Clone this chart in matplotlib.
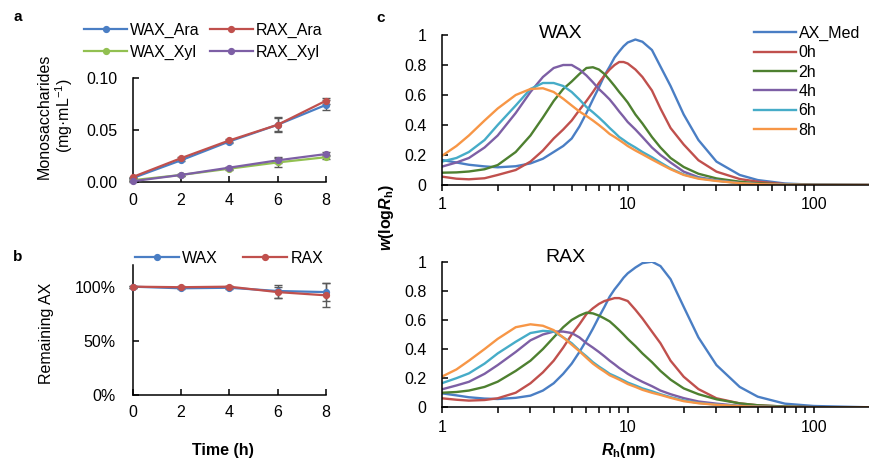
import matplotlib
matplotlib.use("Agg")
import matplotlib.pyplot as plt
from matplotlib.ticker import LogLocator, NullFormatter

plt.rcParams['font.family'] = ['Liberation Sans', 'DejaVu Sans']
plt.rcParams['mathtext.fontset'] = 'custom'
plt.rcParams['mathtext.rm'] = 'Liberation Sans'
plt.rcParams['mathtext.it'] = 'Liberation Sans:italic:bold'
plt.rcParams['mathtext.bf'] = 'Liberation Sans:bold'

# ---------------- data: panel a ----------------
time_h = [0, 2, 4, 6, 8]
wax_ara = [0.004, 0.021, 0.039, 0.055, 0.074]
rax_ara = [0.005, 0.023, 0.040, 0.055, 0.078]
wax_xyl = [0.002, 0.007, 0.013, 0.019, 0.024]
rax_xyl = [0.001, 0.007, 0.014, 0.021, 0.027]
wax_ara_err = [0.0005, 0.001, 0.001, 0.007, 0.005]
rax_ara_err = [0.0005, 0.001, 0.001, 0.006, 0.003]
wax_xyl_err = [0.0003, 0.0005, 0.0015, 0.004, 0.002]
rax_xyl_err = [0.0003, 0.0005, 0.001, 0.003, 0.0015]

# ---------------- data: panel b ----------------
wax_rem = [100, 98.5, 99, 96, 95]
rax_rem = [100, 99.5, 100, 95, 92]
wax_rem_err = [1, 1, 1.5, 6, 8]
rax_rem_err = [1, 1, 1, 5, 11]

# ---------------- data: panel c ----------------
rh = [1, 1.2, 1.4, 1.7, 2, 2.5, 3, 3.5, 4, 4.5, 5, 5.5, 6, 6.5, 7, 7.5, 8, 8.5, 9, 9.5,
      10, 11, 12, 13.5, 15, 17, 20, 24, 30, 40, 50, 70, 100, 200]
series_names = ['AX_Med', '0h', '2h', '4h', '6h', '8h']

wax_axmed = [0.167, 0.150, 0.135, 0.124, 0.118, 0.125, 0.144, 0.175, 0.22, 0.26, 0.31, 0.39, 0.48,
             0.57, 0.65, 0.73, 0.79, 0.85, 0.89, 0.925, 0.95, 0.97, 0.955, 0.90, 0.79, 0.66,
             0.47, 0.30, 0.156, 0.067, 0.033, 0.010, 0.002, 0.0]
wax_0h = [0.056, 0.042, 0.038, 0.045, 0.067, 0.10, 0.156, 0.23, 0.31, 0.37, 0.43, 0.50, 0.56,
          0.62, 0.68, 0.73, 0.77, 0.80, 0.82, 0.82, 0.81, 0.77, 0.72, 0.63, 0.51, 0.38,
          0.27, 0.165, 0.089, 0.04, 0.022, 0.006, 0.001, 0.0]
wax_2h = [0.082, 0.084, 0.09, 0.105, 0.133, 0.22, 0.33, 0.45, 0.56, 0.64, 0.69, 0.74, 0.78,
          0.785, 0.77, 0.74, 0.70, 0.66, 0.62, 0.585, 0.55, 0.47, 0.41, 0.32, 0.25, 0.18,
          0.12, 0.075, 0.044, 0.022, 0.011, 0.004, 0.001, 0.0]
wax_4h = [0.122, 0.15, 0.18, 0.25, 0.33, 0.48, 0.62, 0.72, 0.78, 0.80, 0.80, 0.77, 0.73,
          0.685, 0.64, 0.605, 0.57, 0.53, 0.49, 0.455, 0.42, 0.37, 0.32, 0.25, 0.20, 0.15,
          0.089, 0.052, 0.031, 0.013, 0.006, 0.002, 0.0, 0.0]
wax_6h = [0.156, 0.18, 0.22, 0.30, 0.40, 0.53, 0.64, 0.68, 0.68, 0.66, 0.62, 0.57, 0.52,
          0.485, 0.45, 0.415, 0.38, 0.35, 0.32, 0.30, 0.28, 0.25, 0.22, 0.185, 0.15, 0.11,
          0.07, 0.046, 0.029, 0.012, 0.006, 0.002, 0.0, 0.0]
wax_8h = [0.193, 0.26, 0.33, 0.43, 0.51, 0.60, 0.64, 0.645, 0.62, 0.575, 0.53, 0.49, 0.46,
          0.43, 0.40, 0.37, 0.34, 0.32, 0.30, 0.28, 0.26, 0.23, 0.205, 0.17, 0.14, 0.105,
          0.067, 0.042, 0.027, 0.012, 0.006, 0.002, 0.0, 0.0]

rax_axmed = [0.096, 0.082, 0.069, 0.06, 0.057, 0.065, 0.08, 0.115, 0.165, 0.23, 0.30, 0.38, 0.46,
             0.54, 0.62, 0.69, 0.76, 0.81, 0.85, 0.89, 0.92, 0.96, 0.99, 1.0, 0.97, 0.88,
             0.69, 0.48, 0.29, 0.14, 0.073, 0.025, 0.009, 0.0]
rax_0h = [0.062, 0.052, 0.046, 0.05, 0.062, 0.10, 0.165, 0.24, 0.32, 0.41, 0.50, 0.57, 0.64,
          0.68, 0.71, 0.73, 0.74, 0.75, 0.75, 0.74, 0.73, 0.67, 0.61, 0.52, 0.44, 0.32,
          0.21, 0.125, 0.062, 0.027, 0.014, 0.005, 0.001, 0.0]
rax_2h = [0.10, 0.105, 0.115, 0.14, 0.176, 0.25, 0.32, 0.40, 0.48, 0.55, 0.60, 0.63, 0.65,
          0.645, 0.63, 0.61, 0.59, 0.56, 0.53, 0.50, 0.47, 0.42, 0.37, 0.31, 0.25, 0.19,
          0.13, 0.09, 0.055, 0.027, 0.014, 0.005, 0.001, 0.0]
rax_4h = [0.123, 0.15, 0.175, 0.23, 0.29, 0.38, 0.46, 0.50, 0.52, 0.52, 0.51, 0.48, 0.44,
          0.41, 0.38, 0.35, 0.32, 0.295, 0.27, 0.25, 0.23, 0.20, 0.175, 0.145, 0.115, 0.09,
          0.063, 0.04, 0.025, 0.01, 0.005, 0.001, 0.0, 0.0]
rax_6h = [0.165, 0.20, 0.233, 0.30, 0.37, 0.45, 0.51, 0.525, 0.52, 0.48, 0.44, 0.39, 0.35,
          0.31, 0.28, 0.255, 0.23, 0.215, 0.20, 0.185, 0.17, 0.15, 0.13, 0.11, 0.09, 0.07,
          0.047, 0.03, 0.018, 0.008, 0.004, 0.001, 0.0, 0.0]
rax_8h = [0.21, 0.26, 0.32, 0.40, 0.47, 0.55, 0.57, 0.56, 0.53, 0.48, 0.43, 0.385, 0.34,
          0.30, 0.27, 0.245, 0.22, 0.205, 0.19, 0.175, 0.16, 0.14, 0.12, 0.10, 0.085, 0.065,
          0.042, 0.028, 0.017, 0.008, 0.004, 0.001, 0.0, 0.0]

c_ticks = [1, 10, 100]
c_tick_labels = ['1', '10', '100']
c_yticks = [0, 0.2, 0.4, 0.6, 0.8, 1.0]
c_ytick_labels = ['0', '0.2', '0.4', '0.6', '0.8', '1']

# ---------------- styles ----------------
BLUE = '#4a7ec4'
RED = '#c0504d'
LGREEN = '#92c051'
DGREEN = '#4e8030'
PURPLE = '#7d5fa5'
CYAN = '#46acc8'
ORANGE = '#f79646'
ERR = '#595959'
FS = 11.5

fig = plt.figure(figsize=(8.7, 4.62), dpi=100)
W, H = 870.0, 462.0


def ax_at(l, t, r, b):
    return fig.add_axes([l / W, 1 - b / H, (r - l) / W, (b - t) / H])


def style_lr(ax):
    for s in ['top', 'right']:
        ax.spines[s].set_visible(False)
    for s in ['left', 'bottom']:
        ax.spines[s].set_linewidth(1.1)
        ax.spines[s].set_color('black')


# ---------------- panel a ----------------
axa = ax_at(132.5, 77.7, 326, 182.3)
style_lr(axa)
for y, e, c, lab in [(wax_ara, wax_ara_err, BLUE, 'WAX_Ara'),
                     (wax_xyl, wax_xyl_err, LGREEN, 'WAX_Xyl'),
                     (rax_ara, rax_ara_err, RED, 'RAX_Ara'),
                     (rax_xyl, rax_xyl_err, PURPLE, 'RAX_Xyl')]:
    axa.errorbar(time_h, y, yerr=e, fmt='none', ecolor=ERR, elinewidth=1.0,
                 capsize=3, capthick=1.0, zorder=2, clip_on=False)
    axa.plot(time_h, y, color=c, lw=1.6, marker='o', ms=4.2, label=lab,
             zorder=3, clip_on=False)
axa.set_xlim(0, 8)
axa.set_ylim(0, 0.10)
axa.set_xticks(time_h)
axa.set_yticks([0, 0.05, 0.10])
axa.set_yticklabels(['0.00', '0.05', '0.10'])
axa.tick_params(axis='both', direction='in', length=4, width=1.1, labelsize=FS)
axa.tick_params(axis='y', pad=11)
axa.tick_params(axis='x', pad=8)
fig.legend(*axa.get_legend_handles_labels(), loc='upper left',
           bbox_to_anchor=(84 / W, 1 - 23 / H), ncol=2, frameon=False,
           fontsize=FS, handlelength=2.7, handletextpad=0.2, columnspacing=0.6,
           labelspacing=0.42, borderpad=0, borderaxespad=0)
fig.text(56 / W, 1 - 116 / H, 'Monosaccharides\n(mg·mL$^{-1}$)', rotation=90,
         ha='center', va='center', fontsize=FS, multialignment='center',
         linespacing=1.05)

# ---------------- panel b ----------------
axb = ax_at(132.5, 265, 326, 395)
style_lr(axb)
for y, e, c, lab in [(wax_rem, wax_rem_err, BLUE, 'WAX'),
                     (rax_rem, rax_rem_err, RED, 'RAX')]:
    axb.errorbar(time_h, y, yerr=e, fmt='none', ecolor=ERR, elinewidth=1.0,
                 capsize=3, capthick=1.0, zorder=2, clip_on=False)
    axb.plot(time_h, y, color=c, lw=1.6, marker='o', ms=4.2, label=lab,
             zorder=3, clip_on=False)
axb.set_xlim(0, 8)
axb.set_ylim(0, 120)
axb.set_xticks(time_h)
axb.set_yticks([0, 50, 100])
axb.set_yticklabels(['0%', '50%', '100%'])
axb.tick_params(axis='both', direction='in', length=4, width=1.1, labelsize=FS)
axb.tick_params(axis='y', pad=12)
axb.tick_params(axis='x', pad=7)
fig.legend(*axb.get_legend_handles_labels(), loc='upper left',
           bbox_to_anchor=(135 / W, 1 - 251 / H), ncol=2, frameon=False,
           fontsize=FS, handlelength=2.75, handletextpad=0.2, columnspacing=1.6,
           borderpad=0, borderaxespad=0)
fig.text(47 / W, 1 - 333 / H, 'Remaining AX', rotation=90, ha='center',
         va='center', fontsize=FS)
fig.text(223 / W, 1 - 450 / H, 'Time (h)', ha='center', va='center',
         fontsize=FS, fontweight='bold')

# ---------------- panel c ----------------
colors_c = [BLUE, RED, DGREEN, PURPLE, CYAN, ORANGE]
axc1 = ax_at(441.7, 35, 869.7, 185)
axc2 = ax_at(441.7, 261.7, 869.7, 407.3)
for ax, data, title, tx, ty in [
        (axc1, [wax_axmed, wax_0h, wax_2h, wax_4h, wax_6h, wax_8h], 'WAX', 561, 34),
        (axc2, [rax_axmed, rax_0h, rax_2h, rax_4h, rax_6h, rax_8h], 'RAX', 565, 257)]:
    style_lr(ax)
    for y, c, lab in zip(data, colors_c, series_names):
        ax.plot(rh, y, color=c, lw=1.7, label=lab, solid_joinstyle='round')
    ax.set_xscale('log')
    ax.set_xlim(1, 200)
    ax.set_ylim(0, 1)
    ax.set_xticks(c_ticks)
    ax.set_xticklabels(c_tick_labels)
    ax.xaxis.set_minor_locator(LogLocator(base=10, subs=range(2, 10)))
    ax.xaxis.set_minor_formatter(NullFormatter())
    ax.set_yticks(c_yticks)
    ax.set_yticklabels(c_ytick_labels)
    ax.tick_params(axis='x', which='both', direction='out', length=4, width=1.1,
                   labelsize=FS, pad=5)
    ax.tick_params(axis='y', direction='in', length=4, width=1.1, labelsize=FS,
                   pad=11)
    fig.text(tx / W, 1 - ty / H, title, ha='center', va='center', fontsize=14)

fig.legend(*axc1.get_legend_handles_labels(), loc='upper left',
           bbox_to_anchor=(754 / W, 1 - 26 / H), frameon=False, fontsize=FS,
           handlelength=2.6, handletextpad=0.2, labelspacing=0.27,
           borderpad=0, borderaxespad=0)
fig.text(387 / W, 1 - 217 / H, r'$\mathit{w}\mathbf{(log}\mathit{R}_\mathbf{h}\mathbf{)}$',
         rotation=90, ha='center', va='center', fontsize=FS)
fig.text(628 / W, 1 - 451 / H, r'$\mathit{R}_\mathbf{h}\mathbf{(nm)}$',
         ha='center', va='center', fontsize=FS)

# panel letters
fig.text(18 / W, 1 - 17 / H, 'a', ha='center', va='center', fontsize=11, fontweight='bold')
fig.text(18 / W, 1 - 257 / H, 'b', ha='center', va='center', fontsize=11, fontweight='bold')
fig.text(381 / W, 1 - 18 / H, 'c', ha='center', va='center', fontsize=11, fontweight='bold')

fig.savefig('out.png', dpi=100)
